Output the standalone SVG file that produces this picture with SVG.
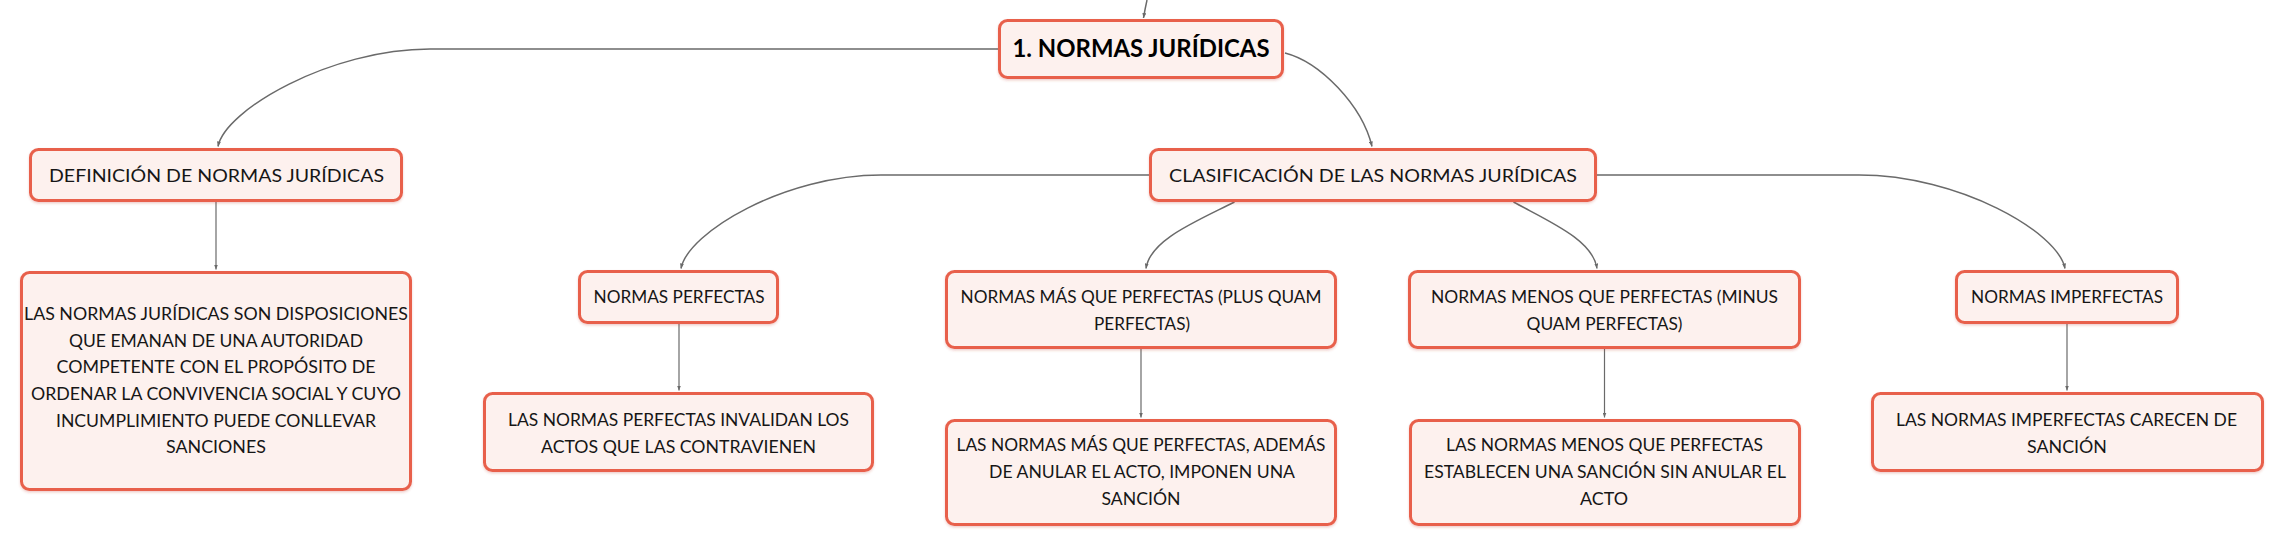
<svg xmlns="http://www.w3.org/2000/svg" width="2284" height="546" viewBox="0 0 2284 546">
<style>
.node rect{fill:#fdf1ee;stroke:#e8604c;stroke-width:3;filter:url(#sh)}
.node text{font-family:Lato,"Liberation Sans",sans-serif;font-size:18px;fill:#161616;text-anchor:middle}
.node text.root{font-size:24px;font-weight:bold;fill:#000}
.conn path{fill:none;stroke:#6a6a6a;stroke-width:1.5;marker-end:url(#ah)}
.conn path.thin{stroke-width:1.2}
</style>
<defs>
<marker id="ah" markerUnits="userSpaceOnUse" markerWidth="5" markerHeight="4" refX="5" refY="2" orient="auto"><path d="M0,0 L5,2 L0,4 z" fill="#6a6a6a"/></marker>
<filter id="sh" x="-5%" y="-10%" width="110%" height="130%"><feDropShadow dx="0" dy="1.5" stdDeviation="1" flood-color="#c04030" flood-opacity="0.25"/></filter>
</defs>
<rect width="2284" height="546" fill="#fff"/>
<g id="connectors" class="conn">
<path d="M1147,0 Q1145,9 1143.5,18"/>
<path d="M998,49 H430 C330,49 225,110 218,146.5"/>
<path d="M1285,53 C1320,62 1362,105 1372,146.5"/>
<path d="M1149,175 H881 C785,175 688,232 681,268.5"/>
<path d="M1234.5,202 C1195,222 1150,240 1146,268.5"/>
<path d="M1513.5,202 C1550,222 1593,240 1597,268.5"/>
<path d="M1597,175 H1859 C1959,175 2058,232 2065,268.5"/>
<path class="thin" d="M216,202 V269.5"/>
<path class="thin" d="M679,324 V390.5"/>
<path class="thin" d="M1141,349 V417.5"/>
<path class="thin" d="M1604.5,349 V417.5"/>
<path class="thin" d="M2067,324 V390.5"/>
</g>
<g id="n-root" class="node">
<rect x="999.5" y="20.5" width="283" height="57" rx="8"/>
<text class="root" x="1141" y="57" textLength="257" lengthAdjust="spacingAndGlyphs">1. NORMAS JURÍDICAS</text>
</g>
<g id="n-definicion" class="node">
<rect x="30.5" y="149.5" width="371" height="51" rx="8"/>
<text x="216.5" y="182" textLength="335" lengthAdjust="spacingAndGlyphs">DEFINICIÓN DE NORMAS JURÍDICAS</text>
</g>
<g id="n-clasificacion" class="node">
<rect x="1150.5" y="149.5" width="445" height="51" rx="8"/>
<text x="1373" y="182" textLength="408" lengthAdjust="spacingAndGlyphs">CLASIFICACIÓN DE LAS NORMAS JURÍDICAS</text>
</g>
<g id="n-def-texto" class="node">
<rect x="21.5" y="272.5" width="389" height="217" rx="8"/>
<text x="216" y="320" textLength="384" lengthAdjust="spacingAndGlyphs">LAS NORMAS JURÍDICAS SON DISPOSICIONES</text>
<text x="216" y="346.7" textLength="294" lengthAdjust="spacingAndGlyphs">QUE EMANAN DE UNA AUTORIDAD</text>
<text x="216" y="373.3" textLength="319" lengthAdjust="spacingAndGlyphs">COMPETENTE CON EL PROPÓSITO DE</text>
<text x="216" y="400" textLength="370" lengthAdjust="spacingAndGlyphs">ORDENAR LA CONVIVENCIA SOCIAL Y CUYO</text>
<text x="216" y="426.7" textLength="320" lengthAdjust="spacingAndGlyphs">INCUMPLIMIENTO PUEDE CONLLEVAR</text>
<text x="216" y="453.4" textLength="100" lengthAdjust="spacingAndGlyphs">SANCIONES</text>
</g>
<g id="n-perfectas" class="node">
<rect x="579.5" y="271.5" width="198" height="51" rx="8"/>
<text x="679" y="303" textLength="171" lengthAdjust="spacingAndGlyphs">NORMAS PERFECTAS</text>
</g>
<g id="n-perfectas-texto" class="node">
<rect x="484.5" y="393.5" width="388" height="77" rx="8"/>
<text x="678.5" y="425.7" textLength="341" lengthAdjust="spacingAndGlyphs">LAS NORMAS PERFECTAS INVALIDAN LOS</text>
<text x="678.5" y="452.5" textLength="275" lengthAdjust="spacingAndGlyphs">ACTOS QUE LAS CONTRAVIENEN</text>
</g>
<g id="n-mas" class="node">
<rect x="946.5" y="271.5" width="389" height="76" rx="8"/>
<text x="1141" y="302.5" textLength="361" lengthAdjust="spacingAndGlyphs">NORMAS MÁS QUE PERFECTAS (PLUS QUAM</text>
<text x="1142" y="329.5" textLength="96" lengthAdjust="spacingAndGlyphs">PERFECTAS)</text>
</g>
<g id="n-mas-texto" class="node">
<rect x="946.5" y="420.5" width="389" height="104" rx="8"/>
<text x="1141" y="451.3" textLength="369" lengthAdjust="spacingAndGlyphs">LAS NORMAS MÁS QUE PERFECTAS, ADEMÁS</text>
<text x="1142" y="478" textLength="306" lengthAdjust="spacingAndGlyphs">DE ANULAR EL ACTO, IMPONEN UNA</text>
<text x="1141" y="505.3" textLength="79" lengthAdjust="spacingAndGlyphs">SANCIÓN</text>
</g>
<g id="n-menos" class="node">
<rect x="1409.5" y="271.5" width="390" height="76" rx="8"/>
<text x="1604.5" y="302.5" textLength="347" lengthAdjust="spacingAndGlyphs">NORMAS MENOS QUE PERFECTAS (MINUS</text>
<text x="1604.5" y="329.5" textLength="156" lengthAdjust="spacingAndGlyphs">QUAM PERFECTAS)</text>
</g>
<g id="n-menos-texto" class="node">
<rect x="1410.5" y="420.5" width="389" height="104" rx="8"/>
<text x="1604.5" y="451.3" textLength="317" lengthAdjust="spacingAndGlyphs">LAS NORMAS MENOS QUE PERFECTAS</text>
<text x="1605" y="478" textLength="362" lengthAdjust="spacingAndGlyphs">ESTABLECEN UNA SANCIÓN SIN ANULAR EL</text>
<text x="1604" y="505.3" textLength="48" lengthAdjust="spacingAndGlyphs">ACTO</text>
</g>
<g id="n-imperfectas" class="node">
<rect x="1956.5" y="271.5" width="221" height="51" rx="8"/>
<text x="2067" y="303" textLength="192" lengthAdjust="spacingAndGlyphs">NORMAS IMPERFECTAS</text>
</g>
<g id="n-imperfectas-texto" class="node">
<rect x="1872.5" y="393.5" width="390" height="77" rx="8"/>
<text x="2066.5" y="425.7" textLength="341" lengthAdjust="spacingAndGlyphs">LAS NORMAS IMPERFECTAS CARECEN DE</text>
<text x="2067" y="452.5" textLength="80" lengthAdjust="spacingAndGlyphs">SANCIÓN</text>
</g>
</svg>
